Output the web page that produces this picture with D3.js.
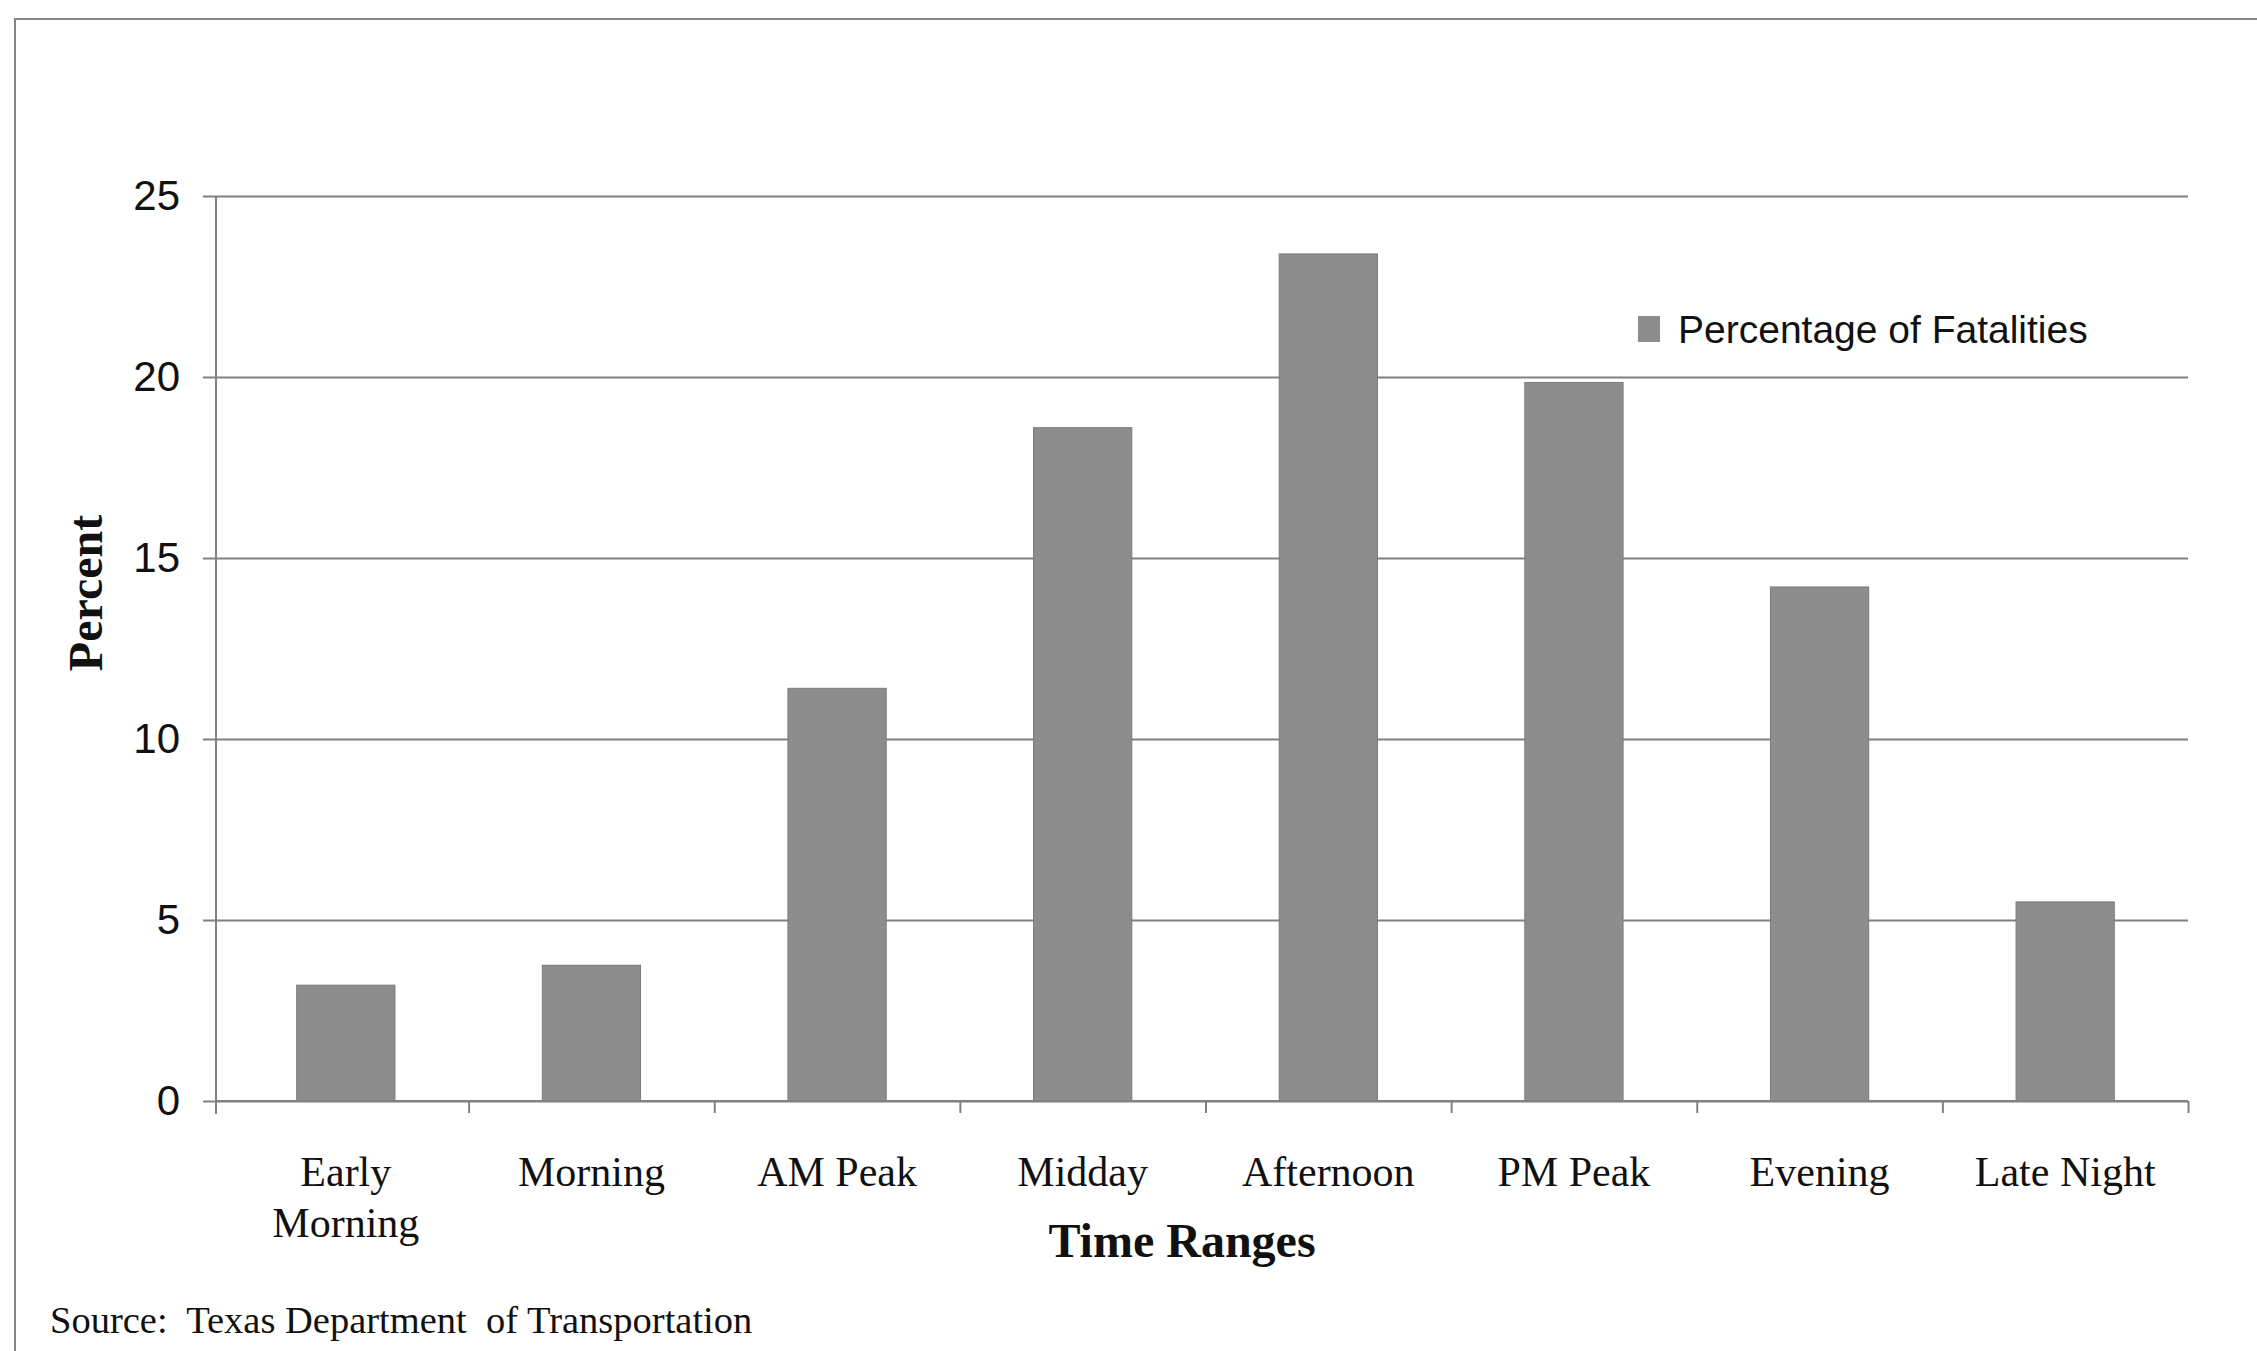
<!DOCTYPE html>
<html>
<head>
<meta charset="utf-8">
<script src="https://cdn.jsdelivr.net/npm/d3@7"></script>
<style>
  html, body { margin: 0; padding: 0; background: #fff; }
  svg { display: block; }
</style>
</head>
<body>
<svg id="chart" width="2257" height="1351"></svg>
<script>
// Fatalities by time of day
const categoryLines = [
  ["Early", "Morning"],
  ["Morning"],
  ["AM Peak"],
  ["Midday"],
  ["Afternoon"],
  ["PM Peak"],
  ["Evening"],
  ["Late Night"]
];
const categories = categoryLines.map(l => l.join(" "));
const values = [3.2, 3.75, 11.4, 18.6, 23.4, 19.85, 14.2, 5.5];
const yTicks = [0, 5, 10, 15, 20, 25];
const seriesName = "Percentage of Fatalities";
const sourceText = "Source:  Texas Department  of Transportation";

const svg = d3.select("#chart");
const plot = { left: 216, right: 2188, top: 196, bottom: 1101 };
const gridColor = "#808080";
const barColor = "#8d8d8d";

// outer frame
svg.append("rect")
  .attr("x", 15).attr("y", 19)
  .attr("width", 2400).attr("height", 1500)
  .attr("fill", "none").attr("stroke", "#858585").attr("stroke-width", 2);

const x = d3.scaleBand()
  .domain(categories)
  .range([223, plot.right])
  .paddingInner(0.6)
  .paddingOuter(0.3);

const y = d3.scaleLinear()
  .domain([0, 25])
  .range([plot.bottom, plot.top]);

// y axis with gridlines
const gy = svg.append("g")
  .attr("transform", `translate(203,0)`)
  .call(d3.axisLeft(y)
    .tickValues(yTicks)
    .tickSize(-(plot.right - 203))
    .tickSizeOuter(0)
    .tickPadding(23));
gy.select(".domain").remove();
gy.selectAll(".tick line")
  .attr("stroke", gridColor).attr("stroke-width", 2);
gy.selectAll(".tick text")
  .attr("font-family", "'Liberation Sans', Arial, sans-serif")
  .attr("font-size", 42)
  .attr("fill", "#111");

// vertical axis line
svg.append("line")
  .attr("x1", plot.left).attr("x2", plot.left)
  .attr("y1", plot.top).attr("y2", plot.bottom + 13)
  .attr("stroke", gridColor).attr("stroke-width", 2);

// bars
svg.append("g").selectAll("rect")
  .data(values)
  .join("rect")
  .attr("x", (d, i) => x(categories[i]))
  .attr("width", x.bandwidth())
  .attr("y", d => y(d))
  .attr("height", d => y(0) - y(d))
  .attr("fill", barColor)
  .attr("stroke", "#7a7a7a")
  .attr("stroke-width", 1);

// horizontal axis with category-boundary ticks
const boundary = d3.scaleLinear()
  .domain([0, categories.length])
  .range(x.range());
const gx = svg.append("g")
  .attr("transform", `translate(0,${plot.bottom})`)
  .call(d3.axisBottom(boundary)
    .tickValues(d3.range(1, categories.length + 1))
    .tickSize(12)
    .tickSizeOuter(0)
    .tickFormat(""));
gx.select(".domain")
  .attr("d", `M${plot.left},0H${plot.right}`)
  .attr("stroke", gridColor).attr("stroke-width", 2);
gx.selectAll(".tick line").attr("stroke", gridColor).attr("stroke-width", 2);

// category labels
const labels = svg.append("g")
  .attr("font-family", "'Liberation Serif', 'Times New Roman', serif")
  .attr("font-size", 42)
  .attr("fill", "#111")
  .attr("text-anchor", "middle");
categoryLines.forEach((lines, i) => {
  const t = labels.append("text")
    .attr("x", x(categories[i]) + x.bandwidth() / 2)
    .attr("y", 1186);
  lines.forEach((line, j) => {
    t.append("tspan")
      .attr("x", x(categories[i]) + x.bandwidth() / 2)
      .attr("dy", j === 0 ? 0 : 51)
      .text(line);
  });
});

// axis titles
svg.append("text")
  .attr("x", 1182).attr("y", 1257)
  .attr("text-anchor", "middle")
  .attr("font-family", "'Liberation Serif', 'Times New Roman', serif")
  .attr("font-weight", "bold")
  .attr("font-size", 48)
  .attr("fill", "#111")
  .text("Time Ranges");

svg.append("text")
  .attr("transform", "translate(102,593) rotate(-90)")
  .attr("text-anchor", "middle")
  .attr("font-family", "'Liberation Serif', 'Times New Roman', serif")
  .attr("font-weight", "bold")
  .attr("font-size", 48)
  .attr("fill", "#111")
  .text("Percent");

// legend
const legend = svg.append("g");
legend.append("rect")
  .attr("x", 1638).attr("y", 316)
  .attr("width", 22).attr("height", 26)
  .attr("fill", barColor);
legend.append("text")
  .attr("x", 1678).attr("y", 343)
  .attr("font-family", "'Liberation Sans', Arial, sans-serif")
  .attr("font-size", 39)
  .attr("fill", "#111")
  .text(seriesName);

// source note
svg.append("text")
  .attr("x", 50).attr("y", 1333)
  .attr("xml:space", "preserve")
  .style("white-space", "pre")
  .attr("font-family", "'Liberation Serif', 'Times New Roman', serif")
  .attr("font-size", 38.5)
  .attr("fill", "#111")
  .text(sourceText);
</script>
</body>
</html>
